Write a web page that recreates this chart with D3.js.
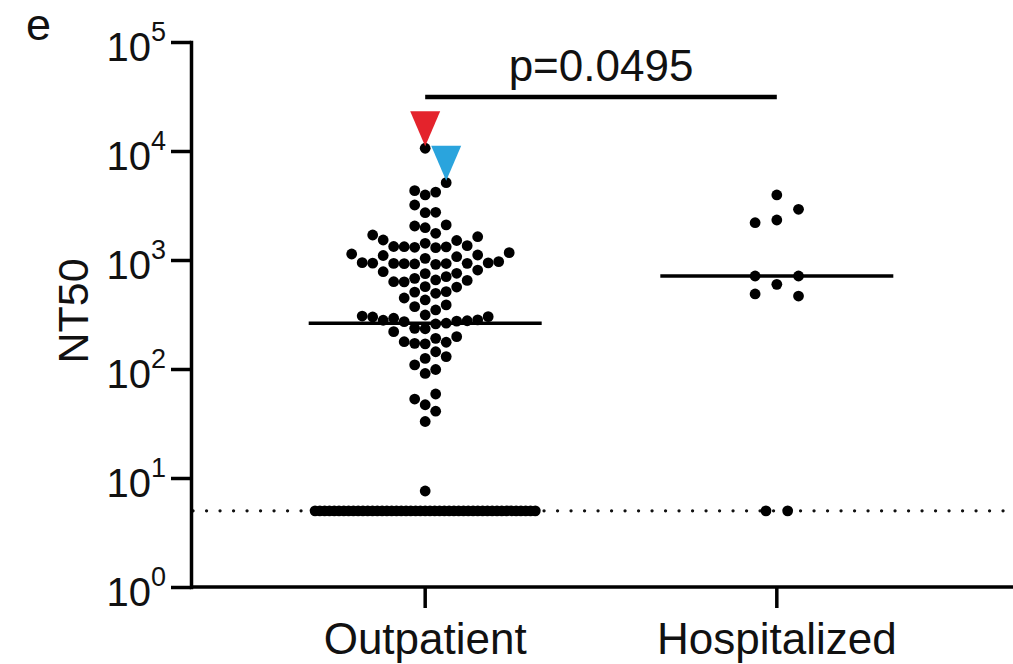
<!DOCTYPE html>
<html>
<head>
<meta charset="utf-8">
<script src="https://cdn.jsdelivr.net/npm/d3@7"></script>
<style>
  body { margin: 0; background: #fff; }
  text { font-family: "Liberation Sans", Arial, Helvetica, sans-serif; fill: #111; }
</style>
</head>
<body>
<div id="chart"></div>
<script>
const width = 1013;
const height = 664;

// data (NT50 values)
const groups = ["Outpatient", "Hospitalized"];
const outpatient = [
  7.6, 33, 41, 47, 53, 59, 91, 99, 109, 125, 130, 144, 170, 172, 176, 178,
  191, 198, 220, 234, 236, 259, 263, 272, 275, 277, 280, 282, 292, 300, 302,
  306, 313, 348, 373, 387, 430, 448, 495, 508, 512, 565, 569, 630, 632, 650,
  656, 679, 703, 750, 755, 781, 809, 913, 920, 925, 928, 930, 932, 935, 940,
  945, 965, 1036, 1072, 1100, 1111, 1135, 1167, 1297, 1308, 1320, 1324, 1330,
  1353, 1423, 1510, 1525, 1636, 1695, 1758, 1978, 2051, 2100, 2716, 2740,
  3197, 3950, 4200, 4325, 5120, 10600
];
const hospitalized = [3950, 2918, 2328, 2198, 598, 713, 713, 467, 488];
const detectionLimit = 5;
const belowLimit = [47, 2];          // points sitting on the limit, per group
const highlightValues = [10600, 5120];
const highlightColors = ["#e4232c", "#2aa4dd"];
const pLabel = "p=0.0495";
const yTicks = [1, 10, 100, 1000, 10000, 100000];

const svg = d3.select("#chart")
    .append("svg")
    .attr("width", width)
    .attr("height", height);

const x = d3.scalePoint()
    .domain(groups)
    .range([191, 1011])
    .padding(0.666);

const y = d3.scaleLog()
    .domain([1, 100000])
    .range([587, 42]);

const r = 5.4;
const halfW = 116.5;

// prism-like column scatter: lanes of fixed step, a point moves out a lane
// when its lane already has a point too close vertically
function swarm(values, nLimit, cx, step, gap) {
    const placed = [];
    values.forEach(v => {
        const py = y(v);
        for (let i = 0; ; i++) {
            const k = i === 0 ? 0 : (i % 2 ? (i + 1) / 2 : -i / 2);
            if (!placed.some(p => p.k === k && Math.abs(p.y - py) < gap)) {
                placed.push({ value: v, k: k, y: py, x: cx + k * step });
                break;
            }
        }
    });
    const sp = nLimit > 1 ? Math.min(step, (2 * (halfW - r - 1)) / (nLimit - 1)) : 0;
    for (let i = 0; i < nLimit; i++) {
        placed.push({ value: detectionLimit, y: y(detectionLimit), x: cx + (i - (nLimit - 1) / 2) * sp });
    }
    return placed;
}

const outPts = swarm(outpatient, belowLimit[0], x(groups[0]), 10.5, 13);
const hosPts = swarm(hospitalized, belowLimit[1], x(groups[1]), 21.7, 16);

// dotted detection limit
svg.append("line")
    .attr("x1", 193).attr("x2", 1010)
    .attr("y1", y(detectionLimit)).attr("y2", y(detectionLimit))
    .attr("stroke", "#111")
    .attr("stroke-width", 3.2)
    .attr("stroke-linecap", "round")
    .attr("stroke-dasharray", "0.1 13.4");

// points
svg.selectAll("circle.pt")
    .data(outPts.concat(hosPts))
    .enter()
    .append("circle")
    .attr("class", "pt")
    .attr("cx", d => d.x)
    .attr("cy", d => d.y)
    .attr("r", r)
    .attr("fill", "#000");

// medians
const medians = [
    d3.median(outpatient.concat(Array(belowLimit[0]).fill(detectionLimit))),
    d3.median(hospitalized.concat(Array(belowLimit[1]).fill(detectionLimit)))
];
svg.selectAll("line.median")
    .data(groups)
    .enter()
    .append("line")
    .attr("class", "median")
    .attr("x1", d => x(d) - halfW)
    .attr("x2", d => x(d) + halfW)
    .attr("y1", (d, i) => y(medians[i]))
    .attr("y2", (d, i) => y(medians[i]))
    .attr("stroke", "#000")
    .attr("stroke-width", 3.5);

// highlighted donors
highlightValues.forEach((v, i) => {
    const p = outPts.find(d => d.value === v);
    svg.append("path")
        .attr("d", `M${p.x - 15},${p.y - 37}L${p.x + 15},${p.y - 37}L${p.x},${p.y - 2}Z`)
        .attr("fill", highlightColors[i]);
});

// y axis
const yAxis = svg.append("g")
    .attr("transform", "translate(191,0)")
    .call(d3.axisLeft(y).tickValues(yTicks).tickSize(20).tickSizeOuter(0).tickFormat(""));
yAxis.selectAll("path, line").attr("stroke", "#000").attr("stroke-width", 3.5);
yAxis.select(".domain").attr("stroke-linecap", "square");

svg.selectAll("text.ytick")
    .data(yTicks)
    .enter()
    .append("text")
    .attr("class", "ytick")
    .attr("x", 166)
    .attr("y", d => y(d) + 19)
    .attr("text-anchor", "end")
    .style("font-size", "40px")
    .each(function(d) {
        const t = d3.select(this);
        t.append("tspan").text("10");
        t.append("tspan").attr("dy", -20).style("font-size", "27px").text(Math.round(Math.log10(d)));
    });

// x axis
svg.append("line")
    .attr("x1", 191).attr("x2", 1013)
    .attr("y1", 587).attr("y2", 587)
    .attr("stroke", "#000").attr("stroke-width", 3.5);

svg.selectAll("line.xtick")
    .data(groups)
    .enter()
    .append("line")
    .attr("class", "xtick")
    .attr("x1", d => x(d)).attr("x2", d => x(d))
    .attr("y1", 587).attr("y2", 608)
    .attr("stroke", "#000").attr("stroke-width", 3.5);

svg.selectAll("text.xlab")
    .data(groups)
    .enter()
    .append("text")
    .attr("class", "xlab")
    .attr("x", d => x(d))
    .attr("y", 654)
    .attr("text-anchor", "middle")
    .style("font-size", "44px")
    .text(d => d);

// y label
svg.append("text")
    .attr("transform", "translate(88,311) rotate(-90)")
    .attr("text-anchor", "middle")
    .style("font-size", "43px")
    .text("NT50");

// panel letter
svg.append("text")
    .attr("x", 26).attr("y", 40)
    .style("font-size", "45px")
    .text("e");

// significance bracket
const bracketY = 97;
svg.append("line")
    .attr("x1", x(groups[0])).attr("x2", x(groups[1]))
    .attr("y1", bracketY).attr("y2", bracketY)
    .attr("stroke", "#000").attr("stroke-width", 4.5);

svg.append("text")
    .attr("x", (x(groups[0]) + x(groups[1])) / 2)
    .attr("y", 81)
    .attr("text-anchor", "middle")
    .style("font-size", "44px")
    .text(pLabel);
</script>
</body>
</html>
